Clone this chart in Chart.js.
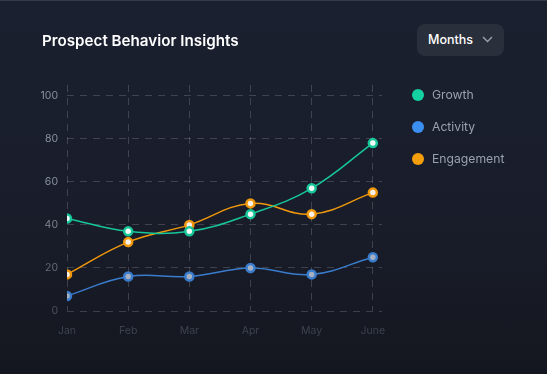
<!DOCTYPE html>
<html>
<head>
<meta charset="utf-8">
<script src="https://cdn.jsdelivr.net/npm/chart.js@4"></script>
<style>
  html, body { margin: 0; padding: 0; }
  body {
    width: 547px; height: 374px; overflow: hidden; position: relative;
    background: linear-gradient(180deg, #1b2030 0%, #191d2a 60%, #14171f 100%);
    font-family: Inter, "Noto Sans", sans-serif;
  }
  .edge { position: absolute; left: 0; top: 0; width: 547px; height: 1px; background: #353a46; }
  #chart { position: absolute; left: 0; top: 0; }
  .title { position: absolute; left: 42px; top: 31px; color: #fff; font-size: 15.2px; font-weight: 600; }
  .dropdown {
    position: absolute; left: 417px; top: 24px; width: 87px; height: 32px;
    background: #2a303b; border-radius: 8px; color: #fff; font-size: 12.5px; font-weight: 500;
    box-sizing: border-box; padding-left: 11px; line-height: 32px;
  }
  .dropdown svg { position: absolute; right: 11px; top: 12px; }
  .legend { position: absolute; left: 411px; top: 86px; }
  .legend div { height: 32px; line-height: 18px; color: #9aa0ac; font-size: 12.2px; position: relative; padding-left: 21px; }
  .legend span { position: absolute; left: 1px; top: 3px; width: 12px; height: 12px; border-radius: 50%; }
</style>
</head>
<body>
<div class="edge"></div>
<canvas id="chart" width="547" height="374"></canvas>
<div class="title">Prospect Behavior Insights</div>
<div class="dropdown">Months
  <svg width="11" height="7" viewBox="0 0 11 7"><path d="M1 1 L5.5 5.5 L10 1" fill="none" stroke="#9aa0ac" stroke-width="1.4"/></svg>
</div>
<div class="legend">
  <div><span style="background:#14d29f"></span>Growth</div>
  <div><span style="background:#3b8ff0"></span>Activity</div>
  <div><span style="background:#f59e0b"></span>Engagement</div>
</div>
<script>
const months = ['Jan', 'Feb', 'Mar', 'Apr', 'May', 'June'];
const growth = [43, 37, 37, 45, 57, 78];
const activity = [7, 16, 16, 20, 17, 25];
const engagement = [17, 32, 40, 50, 45, 55];

const toPoints = arr => arr.map((v, i) => ({ x: i, y: v }));

function series(label, data, color, fill) {
  return {
    label: label,
    data: toPoints(data),
    borderColor: color,
    borderWidth: 1.5,
    tension: 0.4,
    pointRadius: 4,
    pointHoverRadius: 4,
    pointBorderWidth: 2.5,
    pointBorderColor: color,
    pointBackgroundColor: fill
  };
}

const gridColor = 'rgba(255,255,255,0.17)';

new Chart(document.getElementById('chart').getContext('2d'), {
  type: 'line',
  data: {
    datasets: [
      series('Growth', growth, '#17c79a', '#f2fbf8'),
      series('Activity', activity, '#3a7ccc', '#a6b0c0'),
      series('Engagement', engagement, '#f0980c', '#f6f0e6')
    ]
  },
  options: {
    responsive: false,
    animation: false,
    layout: { padding: { left: 0, right: 165, top: 85, bottom: 0 } },
    plugins: { legend: { display: false }, tooltip: { enabled: false } },
    scales: {
      x: {
        type: 'linear',
        min: 0,
        max: 5.15,
        afterFit: s => { s.height = 63; },
        grid: { color: gridColor, drawTicks: false },
        border: { display: false, dash: [7, 6] },
        ticks: {
          stepSize: 1,
          includeBounds: false,
          padding: 14,
          color: '#3c4250',
          font: { family: 'Inter', size: 10.5 },
          callback: v => months[v]
        }
      },
      y: {
        min: 0,
        max: 105,
        afterFit: s => { s.width = 67; },
        grid: { color: gridColor, drawTicks: false },
        border: { display: false, dash: [7, 6] },
        ticks: {
          stepSize: 20,
          includeBounds: false,
          padding: 9,
          font: { family: 'Inter', size: 10.5 },
          color: ctx => {
            const v = ctx.tick ? ctx.tick.value : 100;
            if (v >= 60) return '#8a909c';
            if (v >= 40) return '#7a808c';
            if (v >= 20) return '#646a76';
            return '#4a505c';
          }
        }
      }
    }
  }
});
</script>
</body>
</html>
